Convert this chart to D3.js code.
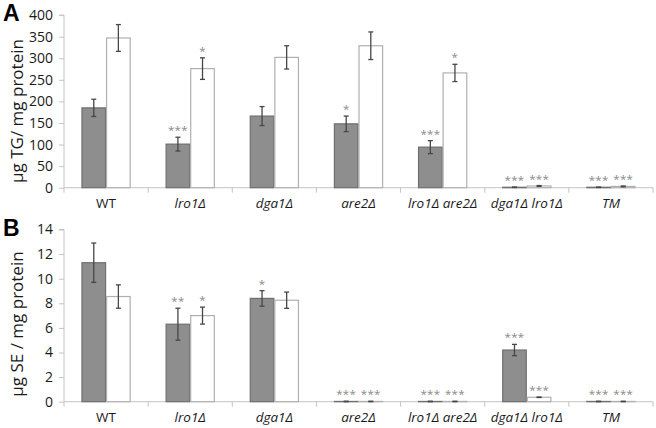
<!DOCTYPE html>
<html><head><meta charset="utf-8">
<script src="https://cdn.jsdelivr.net/npm/d3@7"></script>
<style>body{margin:0;background:#fff}svg{display:block}</style>
</head><body>
<svg id="c" width="656" height="428"></svg>
<script>
const categories = ["WT","lro1Δ","dga1Δ","are2Δ","lro1Δ are2Δ","dga1Δ lro1Δ","TM"];
const italicCats = [false,true,true,true,true,true,true];

const tgGray = [185,101,166,148,94,1,1];
const tgGrayErr = [20,16,22,18,15,0.5,0.5];
const tgWhite = [347,276,302,329,266,4,3];
const tgWhiteErr = [31,25,27,32,20,1,1];
const tgGrayStars = ["","***","","*","***","***","***"];
const tgWhiteStars = ["","*","","","*","***","***"];
const tgTicks = [0,50,100,150,200,250,300,350,400];

const seGray = [11.3,6.3,8.4,0.02,0.02,4.2,0.02];
const seGrayErr = [1.6,1.3,0.63,0.02,0.02,0.46,0.02];
const seWhite = [8.55,7.0,8.25,0.02,0.02,0.36,0.02];
const seWhiteErr = [0.95,0.69,0.66,0.02,0.02,0.02,0.02];
const seGrayStars = ["","**","*","***","***","***","***"];
const seWhiteStars = ["","*","","***","***","***","***"];
const seTicks = [0,2,4,6,8,10,12,14];

const svg = d3.select("#c");
const FONT = "'Open Sans', 'Liberation Sans', Arial, sans-serif";

const x = d3.scaleBand().domain(categories).range([64, 653]).paddingInner(0).paddingOuter(0);
const inner = d3.scaleBand().domain(["g","w"]).range([0, x.bandwidth()]).paddingInner(0).paddingOuter(0.71);

function panel(opts) {
  const y = d3.scaleLinear().domain([0, opts.max]).range([opts.bottom, opts.top]);
  const g = svg.append("g");

  // y axis
  const ya = g.append("g").attr("transform", `translate(64,0)`)
    .call(d3.axisLeft(y).tickValues(opts.ticks).tickSize(5).tickPadding(6).tickFormat(d3.format("d")));
  ya.select(".domain").attr("stroke", "#c4c4c4").attr("d", `M-5,${y(opts.max)}H0V${y(0)}`);
  ya.selectAll(".tick line").attr("stroke", "#c4c4c4");
  ya.selectAll(".tick text").attr("font-family", FONT).attr("font-size", 14).attr("fill", "#1a1a1a");

  // x axis
  const xa = g.append("g").attr("transform", `translate(0,${opts.bottom})`)
    .call(d3.axisBottom(x).tickSize(0).tickPadding(11));
  xa.select(".domain").attr("stroke", "#c4c4c4").attr("d", `M64,0H653`);
  xa.selectAll(".tick text").attr("font-family", FONT).attr("font-size", 13.5).attr("fill", "#1a1a1a")
    .attr("font-style", (d, i) => italicCats[i] ? "italic" : "normal");
  // boundary ticks
  g.selectAll(".bt").data(categories).enter().append("line")
    .attr("x1", d => x(d) + x.bandwidth()).attr("x2", d => x(d) + x.bandwidth())
    .attr("y1", opts.bottom).attr("y2", opts.bottom + 5).attr("stroke", "#c4c4c4");
  g.append("line").attr("x1", 64).attr("x2", 64).attr("y1", opts.bottom).attr("y2", opts.bottom + 5).attr("stroke", "#c4c4c4");

  const series = [
    {key: "g", vals: opts.gray, errs: opts.grayErr, stars: opts.grayStars, fill: "#8e8e8e", stroke: "#6f6f6f"},
    {key: "w", vals: opts.white, errs: opts.whiteErr, stars: opts.whiteStars, fill: "#ffffff", stroke: "#b0b0b0"}
  ];
  series.forEach(s => {
    const data = categories.map((c, i) => ({c, v: s.vals[i], e: s.errs[i], st: s.stars[i]}));
    const bx = d => x(d.c) + inner(s.key);
    g.selectAll(null).data(data).enter().append("rect")
      .attr("x", d => bx(d) + 0.5).attr("width", inner.bandwidth() - 1)
      .attr("y", d => y(d.v)).attr("height", d => Math.max(0, y(0) - y(d.v)))
      .attr("fill", s.fill).attr("stroke", s.stroke).attr("stroke-width", 1.2);
    const cx = d => bx(d) + inner.bandwidth() / 2;
    const eg = g.selectAll(null).data(data).enter().append("g").attr("stroke", "#474747").attr("stroke-width", 1.3);
    eg.append("line").attr("x1", cx).attr("x2", cx).attr("y1", d => y(d.v + d.e)).attr("y2", d => y(Math.max(0, d.v - d.e)));
    eg.append("line").attr("x1", d => cx(d) - 2.5).attr("x2", d => cx(d) + 2.5).attr("y1", d => y(d.v + d.e)).attr("y2", d => y(d.v + d.e));
    eg.append("line").attr("x1", d => cx(d) - 2.5).attr("x2", d => cx(d) + 2.5).attr("y1", d => y(Math.max(0, d.v - d.e))).attr("y2", d => y(Math.max(0, d.v - d.e)));
    g.selectAll(null).data(data.filter(d => d.st)).enter().append("text")
      .attr("x", cx).attr("y", d => y(d.v + d.e) - 3)
      .attr("text-anchor", "middle").attr("font-family", FONT).attr("font-size", 11.5)
      .attr("letter-spacing", 0.3).attr("fill", "#8a8a8a").text(d => d.st);
  });

  // y label
  g.append("text").attr("transform", `translate(${opts.labelX},${opts.labelY}) rotate(-90)`)
    .attr("text-anchor", "middle").attr("font-family", FONT).attr("font-size", 17).attr("fill", "#1a1a1a")
    .text(opts.label);
  // panel letter
  g.append("text").attr("x", 3).attr("y", opts.letterY).attr("font-family", "'Liberation Sans', Arial, sans-serif")
    .attr("font-weight", "bold").attr("font-size", 23).attr("fill", "#000").text(opts.letter);
}

panel({max: 400, top: 15.1, bottom: 187.7, ticks: tgTicks,
  gray: tgGray, grayErr: tgGrayErr, white: tgWhite, whiteErr: tgWhiteErr,
  grayStars: tgGrayStars, whiteStars: tgWhiteStars,
  label: "µg TG/ mg protein", labelX: 23, labelY: 111, letter: "A", letterY: 21});
panel({max: 14, top: 229.5, bottom: 401.7, ticks: seTicks,
  gray: seGray, grayErr: seGrayErr, white: seWhite, whiteErr: seWhiteErr,
  grayStars: seGrayStars, whiteStars: seWhiteStars,
  label: "µg SE / mg protein", labelX: 23, labelY: 324, letter: "B", letterY: 236});
</script>
</body></html>
